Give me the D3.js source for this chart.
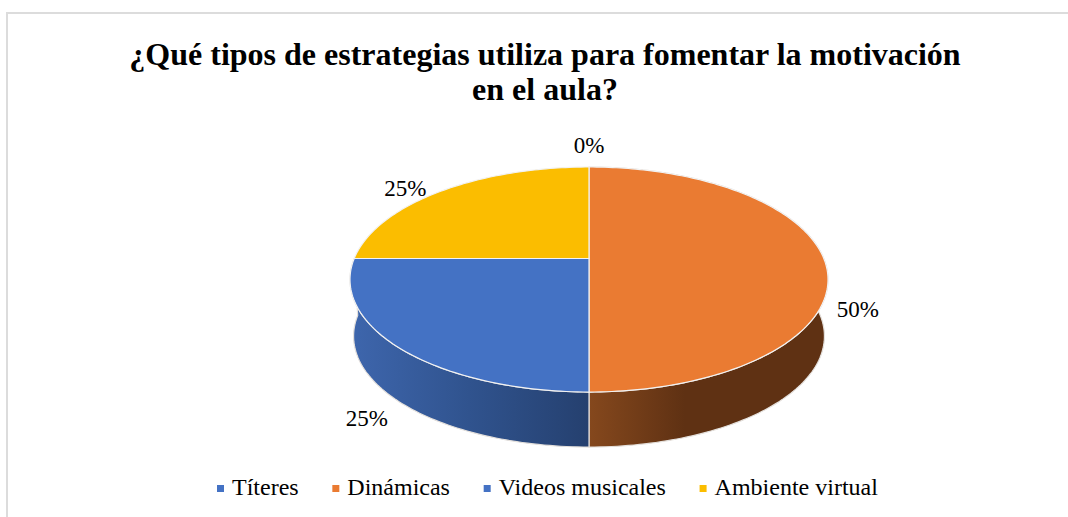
<!DOCTYPE html>
<html>
<head>
<meta charset="utf-8">
<script src="https://cdnjs.cloudflare.com/ajax/libs/d3/7.8.5/d3.min.js"></script>
<style>
  body { margin: 0; background: #fff; }
  svg { display: block; }
  text { font-family: "Liberation Serif", serif; fill: #000; }
</style>
</head>
<body>
<div id="chart"></div>
<script>
const categories = ["Títeres", "Dinámicas", "Videos musicales", "Ambiente virtual"];
const values = [0, 50, 25, 25];
const pctLabels = ["0%", "50%", "25%", "25%"];
const colors = ["#4472c4", "#ea7b32", "#4472c4", "#fbbd00"];
const titleLines = ["¿Qué tipos de estrategias utiliza para fomentar la motivación", "en el aula?"];

const width = 1068, height = 517;

// top face of the pie is a tilted disc, so the centre sits above the middle of the ellipse
const cx = 589, apexY = 258.5;
const discX = 234.8, discY = 108.6, tilt = -0.1867;
// the bottom face is a bit smaller and lower
const depth = 57, shrink = 0.985;
// label offsets from the rim point of each slice
const labelOffsets = [[0, -14], [34, 58], [-31, 79], [-37, 5]];

function project(angle, lower) {
    var u = Math.sin(angle), v = -Math.cos(angle);
    var w = 1 + tilt * v;
    var s = lower ? shrink : 1;
    return [cx + s * discX * u / w, apexY + (lower ? depth : 0) + s * discY * v / w];
}

function arcPoints(a0, a1, lower) {
    var steps = Math.max(1, Math.ceil(Math.abs(a1 - a0) / 0.02));
    return d3.range(steps + 1).map(function(i) {
        return project(a0 + (a1 - a0) * i / steps, lower);
    });
}

var svg = d3.select("#chart").append("svg")
    .attr("width", width)
    .attr("height", height);

// chart frame, runs off the bottom and right of the picture
svg.append("path")
    .attr("d", "M7," + height + "V13H" + width)
    .attr("fill", "none")
    .attr("stroke", "#dcdcdc")
    .attr("stroke-width", 2);

svg.append("g").selectAll("text")
    .data(titleLines)
    .enter()
    .append("text")
    .attr("x", 545)
    .attr("y", function(d, i) { return 65 + i * 35; })
    .attr("text-anchor", "middle")
    .style("font-size", "32px")
    .style("font-weight", "bold")
    .text(function(d) { return d; });

var defs = svg.append("defs");
var sideRamps = {
    1: [["0%", "#85481d"], ["40%", "#5f3113"], ["100%", "#5f3113"]],
    2: [["0%", "#3e66ad"], ["50%", "#30538e"], ["100%", "#25406f"]]
};
var sideExtents = { 1: [589, 828], 2: [350, 589] };
Object.keys(sideRamps).forEach(function(k) {
    var g = defs.append("linearGradient")
        .attr("id", "side" + k)
        .attr("gradientUnits", "userSpaceOnUse")
        .attr("x1", sideExtents[k][0]).attr("x2", sideExtents[k][1])
        .attr("y1", 0).attr("y2", 0);
    sideRamps[k].forEach(function(s) {
        g.append("stop").attr("offset", s[0]).attr("stop-color", s[1]);
    });
});

var pie = d3.pie().sort(null);
var slices = pie(values);
var line = d3.line();

// sides first, the top faces cover what is hidden
svg.append("g").selectAll("path")
    .data(slices.filter(function(d) { return d.value > 0 && d.startAngle < Math.PI * 1.2; }))
    .enter()
    .append("path")
    .attr("d", function(d) {
        var top = arcPoints(d.startAngle, d.endAngle, false);
        var bottom = arcPoints(d.endAngle, d.startAngle, true);
        return line(top.concat(bottom)) + "Z";
    })
    .attr("fill", function(d) { return "url(#side" + d.index + ")"; })
    .attr("stroke", "#e4e0dc")
    .attr("stroke-width", 1.2);

svg.append("g").selectAll("path")
    .data(slices.filter(function(d) { return d.value > 0; }))
    .enter()
    .append("path")
    .attr("d", function(d) {
        return line([[cx, apexY]].concat(arcPoints(d.startAngle, d.endAngle, false))) + "Z";
    })
    .attr("fill", function(d) { return colors[d.index]; })
    .attr("stroke", "#f2f2f2")
    .attr("stroke-width", 1.2);

svg.append("g").selectAll("text")
    .data(slices)
    .enter()
    .append("text")
    .attr("x", function(d) { return project((d.startAngle + d.endAngle) / 2, false)[0] + labelOffsets[d.index][0]; })
    .attr("y", function(d) { return project((d.startAngle + d.endAngle) / 2, false)[1] + labelOffsets[d.index][1]; })
    .attr("text-anchor", "middle")
    .style("font-size", "23px")
    .text(function(d) { return pctLabels[d.index]; });

// legend items are laid out one after the other from the measured text widths
var legendX = 217, legendY = 495;
categories.forEach(function(name, i) {
    svg.append("rect")
        .attr("x", legendX)
        .attr("y", legendY - 10)
        .attr("width", 7)
        .attr("height", 7)
        .attr("fill", colors[i]);
    var t = svg.append("text")
        .attr("x", legendX + 15)
        .attr("y", legendY)
        .style("font-size", "24px")
        .text(name);
    legendX += 15 + t.node().getComputedTextLength() + 33.7;
});
</script>
</body>
</html>
